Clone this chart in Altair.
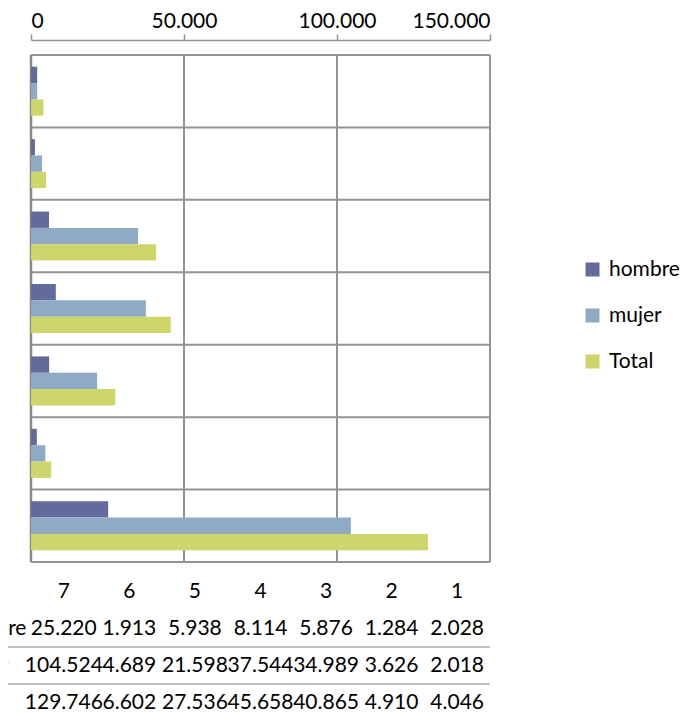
import altair as alt
import pandas as pd

# ---------------- data ----------------
categories = ["1", "2", "3", "4", "5", "6", "7"]
series = ["hombre", "mujer", "Total"]
hombre = [2028, 1284, 5876, 8114, 5938, 1913, 25220]
mujer = [2018, 3626, 34989, 37544, 21598, 4689, 104524]
total = [4046, 4910, 40865, 45658, 27536, 6602, 129746]
table_columns = ["7", "6", "5", "4", "3", "2", "1"]
table_rows = [" ", "hombre", "mujer", "Total"]
x_ticks = [0, 50000, 100000, 150000]
colors = ["#636b9d", "#8eaac5", "#cdd56b"]

# ---------------- style ----------------
FONT = "Lato"
FS = 21
W = 459
PLOT_H = 507
H = 656
GRID = "#939393"

series_vals = [hombre, mujer, total]

bars_df = pd.DataFrame(
    [{"cat": c, "series": s, "value": v}
     for s, vals in zip(series, series_vals)
     for c, v in zip(categories, vals)]
)


def fmt(v):
    return f"{v:,}".replace(",", ".")


table_records = [{"col": c, "row": " ", "txt": c} for c in table_columns]
for s, vals in zip(series, series_vals):
    for c, v in zip(categories, vals):
        table_records.append({"col": c, "row": s, "txt": fmt(v)})
table_df = pd.DataFrame(table_records)

cat_df = pd.DataFrame({"cat": categories})
vgrid_df = pd.DataFrame({"v": x_ticks[1:]})
one_df = pd.DataFrame({"k": [0]})
sep_df = pd.DataFrame({"row": ["mujer", "Total"]})

xscale = alt.Scale(domain=[0, 150000], nice=False, zero=True)
yscale = alt.Scale(domain=categories, range=[0, PLOT_H], paddingInner=0, paddingOuter=0)
yoff_scale = alt.Scale(domain=series, paddingInner=0, paddingOuter=0.717)

xaxis = alt.Axis(
    orient="top", values=x_ticks, offset=15, grid=False,
    labelExpr="replace(format(datum.value, ','), ',', '.')",
    domainColor=GRID, domainWidth=1.5, tickColor=GRID, tickWidth=1.5, tickSize=6,
    labelFont=FONT, labelFontSize=FS, labelColor="#000", labelPadding=3,
    title=None,
)

hgrid = alt.Chart(cat_df).mark_rule(color=GRID, strokeWidth=2).encode(
    y=alt.Y("cat:N", scale=yscale, bandPosition=0, axis=None)
)
vgrid = alt.Chart(vgrid_df).mark_rule(color=GRID, strokeWidth=2).encode(
    x=alt.X("v:Q", scale=xscale, axis=xaxis),
    y=alt.value(0), y2=alt.value(PLOT_H),
)
left_line = alt.Chart(one_df).mark_rule(color="#888888", strokeWidth=2.5).encode(
    x=alt.value(0), y=alt.value(0), y2=alt.value(PLOT_H)
)
bottom_line = alt.Chart(one_df).mark_rule(color=GRID, strokeWidth=2).encode(
    y=alt.value(PLOT_H), x=alt.value(0), x2=alt.value(W)
)

bars = alt.Chart(bars_df).mark_bar().encode(
    x=alt.X("value:Q", scale=xscale, axis=xaxis),
    y=alt.Y("cat:N", scale=yscale, axis=None),
    yOffset=alt.YOffset("series:N", scale=yoff_scale),
    color=alt.Color(
        "series:N",
        scale=alt.Scale(domain=series, range=colors),
        legend=alt.Legend(
            orient="none", legendX=551, legendY=204, title=None,
            symbolType="square", symbolSize=196, symbolStrokeWidth=0,
            labelFont=FONT, labelFontSize=FS, labelColor="#000",
            labelOffset=6, rowPadding=24, padding=0,
        ),
    ),
)

bar_layer = alt.layer(hgrid, vgrid, left_line, bottom_line, bars)

tx = alt.Scale(domain=table_columns, range=[0, W], paddingInner=0, paddingOuter=0)
ty = alt.Scale(domain=table_rows, range=[518, 666], paddingInner=0, paddingOuter=0)

table_text = alt.Chart(table_df).mark_text(font=FONT, fontSize=FS, color="#000").encode(
    x=alt.X("col:N", scale=tx, axis=None),
    y=alt.Y("row:N", scale=ty, axis=alt.Axis(
        orient="left", labelAlign="left", labelPadding=76, ticks=False,
        domain=False, grid=False, labelFont=FONT, labelFontSize=FS,
        labelColor="#000", labelLimit=0, title=None,
    )),
    text="txt:N",
)
separators = alt.Chart(sep_df).mark_rule(color="#ababab", strokeWidth=1.5).encode(
    y=alt.Y("row:N", scale=ty, bandPosition=0),
    x=alt.value(-31), x2=alt.value(W),
)
table_layer = alt.layer(separators, table_text)

chart = alt.layer(bar_layer, table_layer).resolve_scale(
    x="independent", y="independent"
).properties(
    width=W, height=H,
    autosize=alt.AutoSizeParams(type="none"),
    padding={"left": 23, "top": 47, "right": 198, "bottom": 0},
).configure_view(stroke=None)

chart.save("out.html", embed_options={"renderer": "svg", "actions": False})
